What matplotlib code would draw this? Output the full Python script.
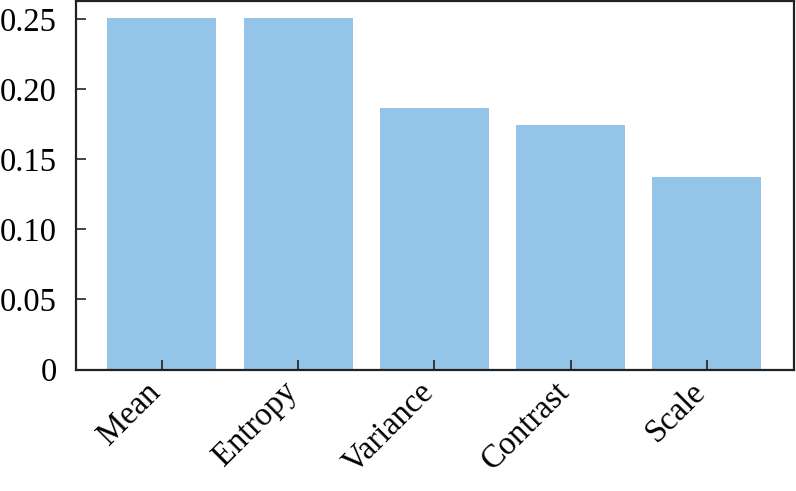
import numpy as np
import matplotlib
matplotlib.use('Agg')
import matplotlib.pyplot as plt

plt.rcParams['font.family'] = ['Liberation Serif', 'DejaVu Serif']

features = ['Mean', 'Entropy', 'Variance', 'Contrast', 'Scale']
importance = [0.2507, 0.2505, 0.1865, 0.1744, 0.1373]
yticks = [0, 0.05, 0.10, 0.15, 0.20, 0.25]
ylabels = ['0', '0.05', '0.10', '0.15', '0.20', '0.25']

fig = plt.figure(figsize=(7.96, 4.91), dpi=100)
ax = fig.add_axes([76/796, 1 - 369.5/491, (794-76)/796, (369.5-1)/491])

x = np.arange(len(features))
ax.bar(x, importance, width=0.8, color='#94c5e8', zorder=1)

ax.set_xlim(-0.63, 4.64)
ax.set_ylim(0, 0.2628)
ax.set_yticks(yticks)
ax.set_yticklabels(ylabels)
ax.set_xticks(x)
ax.set_xticklabels(features, rotation=45, ha='right', va='baseline',
                   rotation_mode='anchor')

for s in ax.spines.values():
    s.set_linewidth(1.6)
    s.set_color('#222222')
    s.set_zorder(3)
ax.tick_params(direction='in', length=7, width=1.2, color='#222222',
               labelsize=23.5)
ax.tick_params(axis='y', pad=14)
ax.tick_params(axis='x', pad=17)

fig.savefig('out.png', dpi=100)
